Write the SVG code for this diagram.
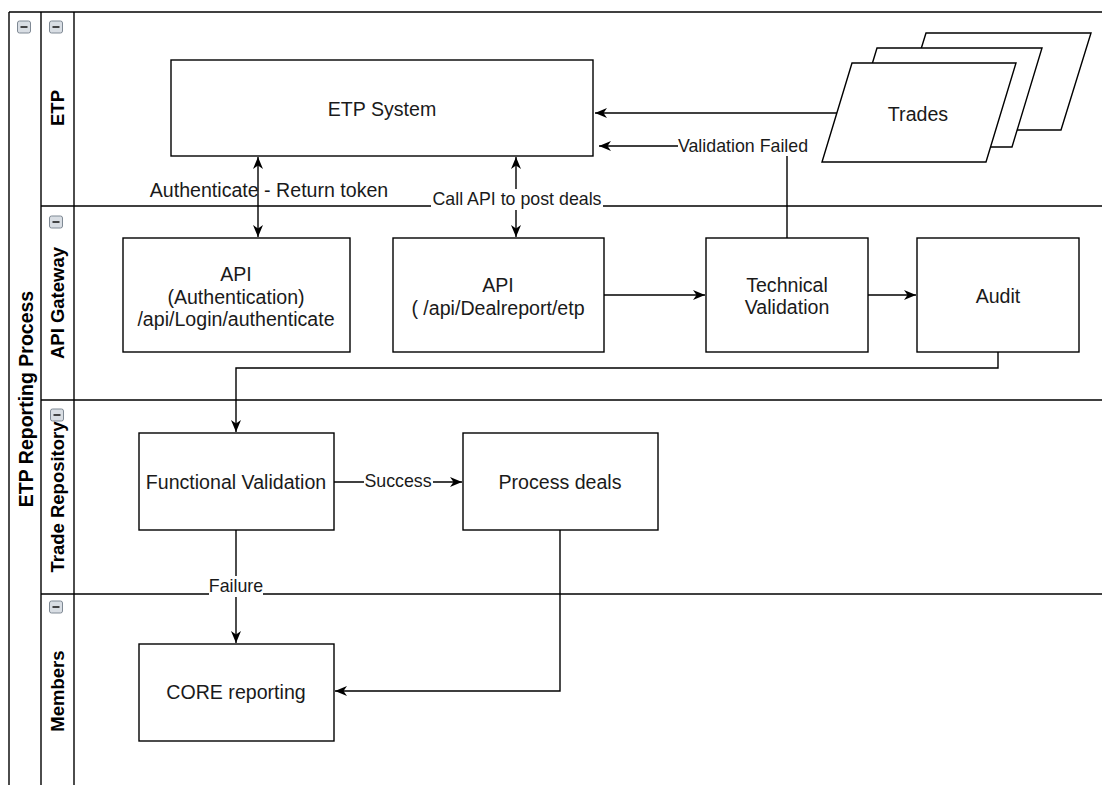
<svg xmlns="http://www.w3.org/2000/svg" width="1102" height="785" viewBox="0 0 1102 785">
<style>
.ln{stroke:#000;stroke-width:1.4;fill:none}
.box{fill:#fff;stroke:#000;stroke-width:1.4}
.t{font-family:"Liberation Sans",Arial,sans-serif;font-size:19.6px;fill:#1a1a1a;text-anchor:middle;dominant-baseline:central}
.tl{font-family:"Liberation Sans",Arial,sans-serif;font-size:17.8px;fill:#1a1a1a;text-anchor:middle;dominant-baseline:central}
.h{font-family:"Liberation Sans",Arial,sans-serif;font-size:18.5px;font-weight:bold;fill:#000;text-anchor:middle;dominant-baseline:central}
.ic{fill:#d9dee4;stroke:#7f8994;stroke-width:1}
.icm{stroke:#333;stroke-width:1.8}
.conn{stroke:#000;stroke-width:1.4;fill:none}
</style>
<defs>
<marker id="arr" viewBox="0 0 12 10" refX="12" refY="5" markerWidth="12" markerHeight="10" markerUnits="userSpaceOnUse" orient="auto-start-reverse">
<path d="M0,0 L12,5 L0,10 L3.5,5 z" fill="#000"/>
</marker>
<g id="minus">
<rect class="ic" x="-6.5" y="-6" width="13" height="12" rx="2"/>
<line class="icm" x1="-3.5" y1="0" x2="3.5" y2="0"/>
</g>
</defs>
<rect width="1102" height="785" fill="#fff"/>

<g id="pool">
<line class="ln" x1="9" y1="12" x2="1102" y2="12"/>
<line class="ln" x1="9" y1="12" x2="9" y2="785"/>
<line class="ln" x1="41" y1="12" x2="41" y2="785"/>
<line class="ln" x1="74" y1="12" x2="74" y2="785"/>
<use href="#minus" x="24" y="27"/>
<text class="h" style="font-size:19.5px" transform="rotate(-90 26 399)" x="26" y="399">ETP Reporting Process</text>
</g>

<g id="lane-etp">
<use href="#minus" x="56" y="27"/>
<text class="h" transform="rotate(-90 57 108)" x="57" y="108">ETP</text>
</g>
<g id="lane-api">
<line class="ln" x1="41" y1="206" x2="1102" y2="206"/>
<use href="#minus" x="56" y="222"/>
<text class="h" transform="rotate(-90 57 303)" x="57" y="303">API Gateway</text>
</g>
<g id="lane-tr">
<line class="ln" x1="41" y1="400" x2="1102" y2="400"/>
<use href="#minus" x="57" y="415"/>
<text class="h" transform="rotate(-90 57 497)" x="57" y="497">Trade Repository</text>
</g>
<g id="lane-members">
<line class="ln" x1="41" y1="594" x2="1102" y2="594"/>
<use href="#minus" x="56" y="607"/>
<text class="h" transform="rotate(-90 57 691)" x="57" y="691">Members</text>
</g>

<g id="connectors">
<line class="conn" x1="837" y1="113" x2="595" y2="113" marker-end="url(#arr)"/>
<polyline class="conn" points="787,238 787,146 599,146" marker-end="url(#arr)"/>
<line class="conn" x1="258" y1="157" x2="258" y2="237" marker-start="url(#arr)" marker-end="url(#arr)"/>
<line class="conn" x1="516" y1="157" x2="516" y2="237" marker-start="url(#arr)" marker-end="url(#arr)"/>
<line class="conn" x1="604" y1="295" x2="705" y2="295" marker-end="url(#arr)"/>
<line class="conn" x1="868" y1="295" x2="916" y2="295" marker-end="url(#arr)"/>
<polyline class="conn" points="998,352 998,368 236,368 236,432" marker-end="url(#arr)"/>
<line class="conn" x1="334" y1="482" x2="462" y2="482" marker-end="url(#arr)"/>
<line class="conn" x1="236" y1="530" x2="236" y2="643" marker-end="url(#arr)"/>
<polyline class="conn" points="560,530 560,691 335,691" marker-end="url(#arr)"/>
<rect x="678" y="136" width="131" height="20" fill="#fff"/>
<text class="tl" x="743" y="146">Validation Failed</text>
<text class="tl" style="font-size:19.6px" x="269" y="190">Authenticate - Return token</text>
<rect x="431" y="189" width="172" height="21" fill="#fff"/>
<text class="tl" x="517" y="199">Call API to post deals</text>
<rect x="364" y="472" width="69" height="20" fill="#fff"/>
<text class="tl" x="398" y="481">Success</text>
<rect x="209" y="576" width="54" height="21" fill="#fff"/>
<text class="tl" x="236" y="586">Failure</text>
</g>

<g id="etp-system">
<rect class="box" x="171" y="60" width="422" height="96"/>
<text class="t" x="382" y="109">ETP System</text>
</g>
<g id="trades">
<polygon class="box" points="926,33 1091,33 1061,130 896,130"/>
<polygon class="box" points="877,48 1042,48 1012,147 847,147"/>
<polygon class="box" points="852,63 1016,63 986,162 822,162"/>
<text class="t" x="918" y="114">Trades</text>
</g>
<g id="api-auth">
<rect class="box" x="123" y="238" width="227" height="114"/>
<text class="t" x="236" y="274">API</text>
<text class="t" x="236" y="297">(Authentication)</text>
<text class="t" x="236" y="319">/api/Login/authenticate</text>
</g>
<g id="api-deal">
<rect class="box" x="393" y="238" width="211" height="114"/>
<text class="t" x="498" y="285">API</text>
<text class="t" x="498" y="308">( /api/Dealreport/etp</text>
</g>
<g id="tech-validation">
<rect class="box" x="706" y="238" width="162" height="114"/>
<text class="t" x="787" y="285">Technical</text>
<text class="t" x="787" y="307">Validation</text>
</g>
<g id="audit">
<rect class="box" x="917" y="238" width="162" height="114"/>
<text class="t" x="998" y="296">Audit</text>
</g>
<g id="functional-validation">
<rect class="box" x="139" y="433" width="195" height="97"/>
<text class="t" x="236" y="482">Functional Validation</text>
</g>
<g id="process-deals">
<rect class="box" x="463" y="433" width="195" height="97"/>
<text class="t" x="560" y="482">Process deals</text>
</g>
<g id="core-reporting">
<rect class="box" x="139" y="644" width="195" height="97"/>
<text class="t" x="236" y="692">CORE reporting</text>
</g>
</svg>
